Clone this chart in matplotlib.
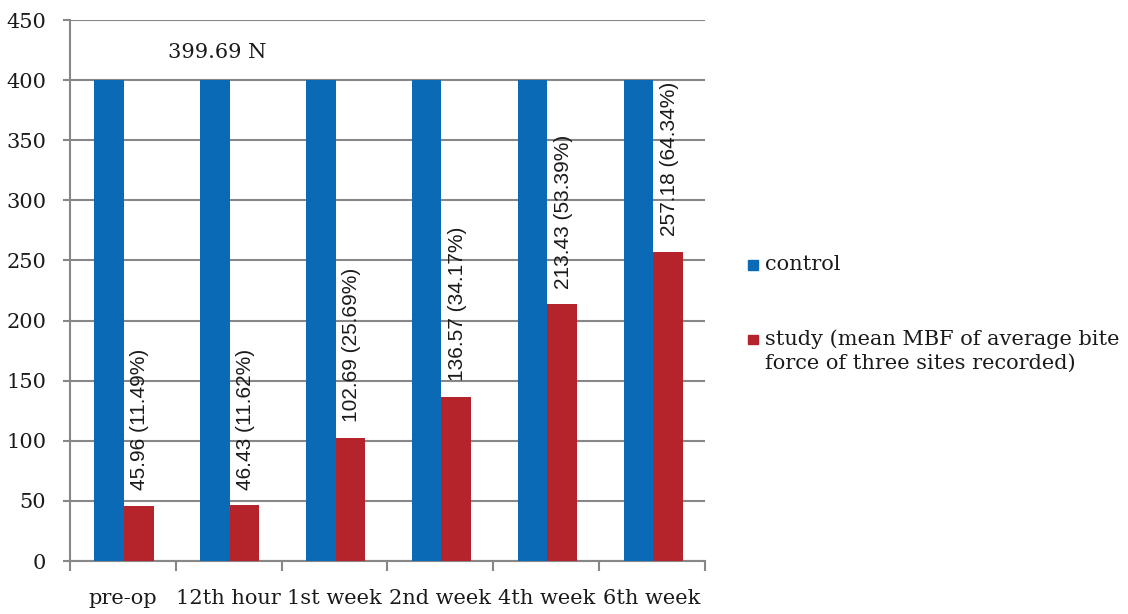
import matplotlib.pyplot as plt
import numpy as np
from matplotlib.patches import Rectangle

plt.rcParams['font.family'] = ['DejaVu Serif']

# data
categories = ['pre-op', '12th hour', '1st week', '2nd week', '4th week', '6th week']
control = [399.69, 399.69, 399.69, 399.69, 399.69, 399.69]
study = [45.96, 46.43, 102.69, 136.57, 213.43, 257.18]
study_pct = ['11.49%', '11.62%', '25.69%', '34.17%', '53.39%', '64.34%']
legend_labels = ['control', 'study (mean MBF of average bite\nforce of three sites recorded)']

blue = '#0a6ab5'
red = '#b5232b'
grey = '#878787'
txt = '#1a1a1a'

fig = plt.figure(figsize=(11.28, 6.14), dpi=100)
ax = fig.add_axes([0.062, 0.0863, 0.563, 0.8811])

x = np.arange(len(categories))
w = 0.28
ax.bar(x - w / 2 + 0.01, control, w, color=blue, zorder=3)
ax.bar(x + w / 2 + 0.01, study, w, color=red, zorder=3)

# rotated value labels above study bars
for xi, v, p in zip(x, study, study_pct):
    ax.text(xi + w / 2 + 0.02, v + 13, f'{v:.2f} ({p})', rotation=90,
            ha='center', va='bottom', fontsize=15, family='Liberation Sans',
            color=txt, zorder=4)

ax.text(0.89, 423, '399.69 N', ha='center', va='center', fontsize=15, color=txt)

ax.set_xlim(-0.5, len(categories) - 0.5)
ax.set_ylim(0, 450)
ax.set_yticks(np.arange(0, 451, 50))
ax.yaxis.grid(True, color=grey, linewidth=1.5, zorder=0)

ax.set_xticks(x)
ax.set_xticklabels(categories)
ax.set_xticks(np.arange(-0.5, len(categories), 1), minor=True)
ax.tick_params(axis='x', which='major', length=0, pad=20, labelsize=15, colors=txt)
ax.tick_params(axis='x', which='minor', length=7, width=1.5, color=grey)
ax.tick_params(axis='y', length=5, width=1.5, color=grey, pad=12, labelsize=15, labelcolor=txt)

for s in ['top', 'right']:
    ax.spines[s].set_visible(False)
for s in ['left', 'bottom']:
    ax.spines[s].set_color(grey)
    ax.spines[s].set_linewidth(1.5)

# legend drawn by hand (square at first line of each label)
for lab, col, y_top in zip(legend_labels, [blue, red], [0.5855, 0.4635]):
    fig.patches.append(Rectangle((0.6631, y_top - 0.0245), 0.0085, 0.0156,
                                 color=col, transform=fig.transFigure, figure=fig))
    fig.text(0.678, y_top, lab, ha='left', va='top', fontsize=15,
             linespacing=1.3, color=txt)

fig.savefig('out.png', dpi=100)
